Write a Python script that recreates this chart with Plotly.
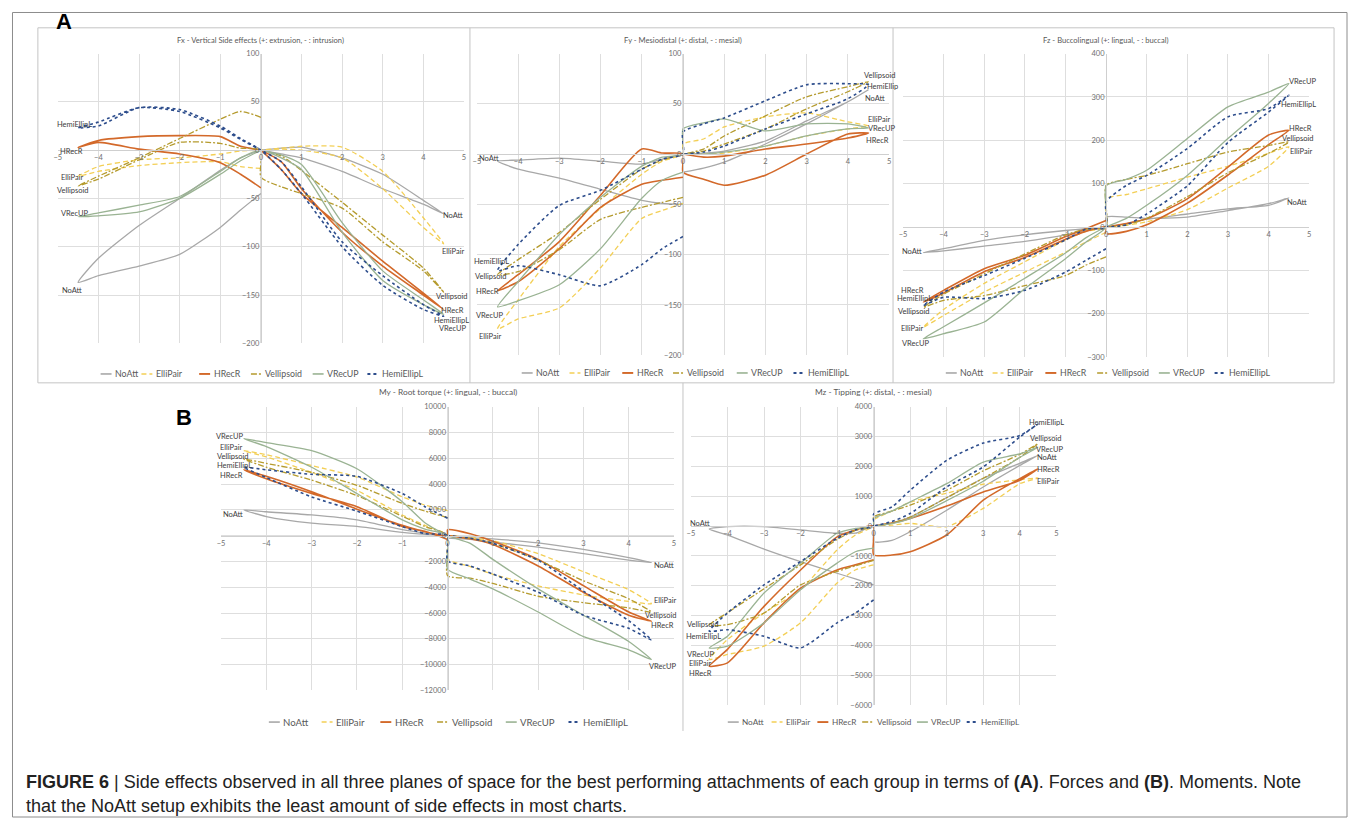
import plotly.graph_objects as go

# ---------------- figure geometry (screen pixels of the reference) ----------------
OFF = 8                      # default body margin of the html page
FW, FH = 1357 - 2 * OFF, 831 - 2 * OFF

SERIES = ["NoAtt", "ElliPair", "HRecR", "Vellipsoid", "VRecUP", "HemiEllipL"]

# loading path: 0 -> -4.5 -> 0, then 0 -> 4.5 -> 0
X_PATH = [0, -0.5, -1, -2, -3, -4, -4.5, -4, -3, -2, -1, -0.5, 0,
          0, 0.5, 1, 2, 3, 4, 4.5, 4, 3, 2, 1, 0.5, 0]
X_TICKS = [-5, -4, -3, -2, -1, 0, 1, 2, 3, 4, 5]

# ---------------- Fx ----------------
FX_NOATT = [-45, -62, -80, -108, -120, -130, -137, -112, -78, -50, -21, -8, 0,
            0, 2, 3, -8, -25, -52, -66, -56, -40, -22, -8, -4, 0]
FX_ELLIPAIR = [-19, -17, -12, -13, -16, -22, -27, -17, -10, -8, -4, -1, 0,
               0, 1, 0, -8, -40, -80, -97, -70, -22, 3, 4, 2, 0]
FX_HRECR = [-39, -25, -13, -4, 1, 8, 3, 10, 14, 15, 14, 4, 0,
            0, -12, -40, -85, -120, -150, -165, -148, -115, -80, -45, -20, 0]
FX_VELLIPSOID = [34, 40, 32, 12, -8, -27, -37, -30, -10, 8, 7, 2, 0,
                 -28, -38, -45, -60, -95, -125, -147, -122, -88, -54, -21, -6, 0]
FX_VRECUP = [0, -8, -22, -48, -57, -65, -69, -68, -64, -50, -25, -11, 0,
             0, -5, -15, -75, -125, -155, -170, -160, -135, -85, -20, -8, 0]
FX_HEMIELLIPL = [0, 12, 25, 42, 44, 25, 23, 29, 44, 40, 23, 11, 0,
                 0, -12, -38, -95, -130, -160, -172, -165, -140, -100, -45, -20, 0]

# ---------------- Fy ----------------
FY_NOATT = [-50, -49, -46, -35, -24, -15, -7, -6, -4, -7, -10, -5, 0,
            0, 1, 3, 13, 33, 52, 64, 52, 30, 10, -8, -14, -18]
FY_ELLIPAIR = [-49, -56, -64, -113, -153, -164, -174, -145, -92, -54, -20, -7, 0,
               10, 15, 27, 37, 41, 32, 28, 25, 18, 8, 1, 0, 0]
FY_HRECR = [-23, -26, -30, -53, -94, -127, -136, -120, -87, -41, 5, 1, 0,
            -18, -25, -31, -21, 0, 20, 21, 16, 10, 5, -2, -3, 0]
FY_VELLIPSOID = [-43, -48, -53, -65, -95, -117, -120, -105, -78, -45, -15, -6, 0,
                 0, 5, 18, 38, 57, 67, 72, 62, 45, 25, 10, 3, 0]
FY_VRECUP = [-18, -26, -44, -94, -130, -146, -152, -127, -80, -43, -12, -3, 0,
             25, 31, 35, 23, 30, 30, 26, 25, 18, 8, 2, 0, 0]
FY_HEMIELLIPL = [-82, -94, -110, -131, -120, -111, -116, -90, -51, -36, -15, -5, 0,
                 22, 30, 36, 53, 69, 70, 69, 55, 40, 25, 8, 2, 0]

# ---------------- Fz ----------------
FZ_NOATT = [0, -4, -8, -18, -31, -50, -59, -55, -44, -33, -18, -8, 0,
            23, 23, 20, 23, 38, 54, 67, 50, 42, 30, 18, 8, 0]
FZ_ELLIPAIR = [-12, -35, -58, -104, -150, -204, -231, -190, -130, -80, -30, -10, 0,
               65, 75, 88, 115, 140, 170, 185, 140, 90, 40, 12, 4, 0]
FZ_HRECR = [15, -4, -22, -65, -96, -146, -173, -152, -103, -70, -28, -10, 0,
            -15, -10, 5, 55, 120, 190, 223, 212, 138, 65, 19, 8, 0]
FZ_VELLIPSOID = [-69, -88, -112, -135, -158, -169, -185, -155, -108, -62, -18, -5, 0,
                 96, 110, 119, 146, 173, 188, 196, 170, 125, 70, 20, 5, 0]
FZ_VRECUP = [0, -25, -60, -118, -175, -230, -258, -246, -219, -142, -73, -35, 0,
             95, 110, 131, 204, 277, 311, 331, 285, 204, 119, 50, 20, 0]
FZ_HEMIELLIPL = [-50, -77, -104, -146, -165, -162, -181, -150, -112, -72, -30, -5, 0,
                 58, 96, 119, 181, 254, 273, 304, 265, 195, 95, 30, 5, 0]

# ---------------- My ----------------
MY_NOATT = [0, 200, 460, 1220, 1600, 1850, 1990, 1480, 970, 710, 250, 100, 0,
            0, -150, -255, -560, -1070, -1710, -2090, -1900, -1400, -900, -500, -300, -200]
MY_ELLIPAIR = [1940, 2370, 3010, 4540, 5430, 6270, 6580, 6100, 4900, 3500, 1600, 800, 0,
               -1800, -2400, -3000, -3900, -4600, -5100, -5280, -4200, -2800, -1400, -400, -150, 0]
MY_HRECR = [-300, 330, 710, 2240, 3260, 4400, 5100, 4600, 3400, 2050, 800, 300, 0,
            450, 150, -430, -1840, -3880, -5920, -6630, -6170, -4390, -2350, -690, -250, 0]
MY_VELLIPSOID = [1400, 1900, 2500, 3900, 4900, 5600, 5940, 5300, 4300, 3100, 1500, 700, 0,
                 -3100, -3300, -3700, -4700, -5200, -5600, -5920, -4900, -3500, -1900, -600, -200, 0]
MY_VRECUP = [0, 1000, 2630, 5180, 6580, 7200, 7520, 6900, 5300, 3260, 1220, 500, 0,
             -2600, -3370, -4130, -5920, -7830, -8850, -9610, -8210, -6170, -4130, -1840, -600, 0]
MY_HEMIELLIPL = [1350, 2240, 3260, 4590, 4750, 5100, 5300, 4500, 3000, 1900, 700, 150, 0,
                 -1960, -2350, -2980, -4390, -6170, -7190, -8080, -6600, -4300, -1900, -600, -200, 0]

# ---------------- Mz ----------------
MZ_NOATT = [-1970, -1770, -1580, -1190, -770, -300, -100, -20, -20, -130, -240, -240, 0,
            -520, -480, -190, 530, 1310, 2030, 2370, 2100, 1600, 950, 300, 100, 0]
MZ_ELLIPAIR = [-1300, -1470, -1910, -3240, -4020, -4300, -4470, -3800, -2910, -2130, -800, -300, 0,
               200, 500, 800, 1100, 1400, 1550, 1610, 1420, 590, -20, 90, 30, 0]
MZ_HRECR = [-1130, -1300, -1470, -2080, -3240, -4580, -4690, -4130, -2690, -1470, -360, -130, 0,
            -960, -970, -860, -300, 870, 1590, 1920, 1530, 1140, 670, 255, 100, 0]
MZ_VELLIPSOID = [-1150, -1330, -1520, -1970, -2910, -3300, -3320, -2900, -2100, -1300, -450, -150, 0,
                 300, 500, 700, 1200, 1850, 2400, 2760, 2300, 1600, 950, 300, 100, 0]
MZ_VRECUP = [-740, -860, -1240, -2130, -3240, -4020, -4080, -3690, -2240, -1240, -240, -80, 0,
             250, 500, 810, 1420, 2140, 2420, 2640, 2300, 1500, 850, 250, 80, 0]
MZ_HEMIELLIPL = [-2470, -2910, -3240, -4080, -3690, -3470, -3520, -2910, -1970, -1190, -410, -130, 0,
                 400, 640, 1200, 2200, 2780, 3030, 3420, 2980, 1980, 1310, 420, 150, 0]

# ---------------- end-of-curve labels (text, x, y) ----------------
FX_LABELS = [("HemiEllipL", -4.6, 27), ("HRecR", -4.67, -1), ("ElliPair", -4.65, -28),
             ("Vellipsoid", -4.62, -42), ("VRecUP", -4.58, -66), ("NoAtt", -4.65, -145),
             ("NoAtt", 4.73, -68), ("ElliPair", 4.73, -105), ("Vellipsoid", 4.7, -152),
             ("HRecR", 4.72, -166), ("HemiEllipL", 4.7, -176), ("VRecUP", 4.72, -185)]
FY_LABELS = [("NoAtt", -4.69, -4), ("HemiEllipL", -4.65, -107), ("Vellipsoid", -4.65, -122),
             ("HRecR", -4.75, -137), ("VRecUP", -4.7, -161), ("ElliPair", -4.69, -181),
             ("Vellipsoid", 4.79, 78), ("HemiEllip", 4.83, 67), ("NoAtt", 4.67, 55),
             ("ElliPair", 4.75, 34), ("VRecUP", 4.81, 25), ("HRecR", 4.71, 14)]
FZ_LABELS = [("NoAtt", -4.76, -56), ("HRecR", -4.76, -146), ("HemiEllipL", -4.72, -164),
             ("Vellipsoid", -4.72, -195), ("ElliPair", -4.78, -233), ("VRecUP", -4.69, -269),
             ("VRecUP", 4.83, 336), ("HemiEllipL", 4.73, 283), ("HRecR", 4.79, 227),
             ("Vellipsoid", 4.73, 205), ("ElliPair", 4.79, 175), ("NoAtt", 4.71, 56)]
MY_LABELS = [("VRecUP", -4.82, 7650), ("ElliPair", -4.78, 6850), ("Vellipsoid", -4.73, 6120),
             ("HemiEllipL", -4.71, 5400), ("HRecR", -4.78, 4650), ("NoAtt", -4.72, 1660),
             ("NoAtt", 4.78, -2300), ("ElliPair", 4.81, -5020), ("Vellipsoid", 4.72, -6170),
             ("HRecR", 4.75, -6990), ("VRecUP", 4.75, -10120)]
MZ_LABELS = [("NoAtt", -4.73, 90), ("Vellipsoid", -4.66, -3300), ("HemiEllipL", -4.66, -3710),
             ("VRecUP", -4.75, -4300), ("ElliPair", -4.75, -4600), ("HRecR", -4.73, -4920),
             ("HemiEllipL", 4.73, 3480), ("Vellipsoid", 4.73, 2920), ("VRecUP", 4.82, 2560),
             ("NoAtt", 4.77, 2290), ("HRecR", 4.79, 1900), ("ElliPair", 4.77, 1480)]

TITLES = ["Fx - Vertical Side effects (+: extrusion, - : intrusion)",
          "Fy - Mesiodistal (+: distal, - : mesial)",
          "Fz - Buccolingual (+: lingual, - : buccal)",
          "My - Root torque (+: lingual, - : buccal)",
          "Mz - Tipping (+: distal, - : mesial)"]

CAPTION_1 = ("<b>FIGURE 6</b> | Side effects observed in all three planes of space for the best "
             "performing attachments of each group in terms of <b>(A)</b>. Forces and <b>(B)</b>. Moments. Note")
CAPTION_2 = "that the NoAtt setup exhibits the least amount of side effects in most charts."

STYLE = {
    "NoAtt": dict(color="#a8a8a8", dash="solid", width=1.3),
    "ElliPair": dict(color="#f3cf55", dash="5px,3px", width=1.3),
    "HRecR": dict(color="#d3692a", dash="solid", width=1.6),
    "Vellipsoid": dict(color="#b59b2e", dash="6px,2px,2px,2px", width=1.3),
    "VRecUP": dict(color="#9ab393", dash="solid", width=1.3),
    "HemiEllipL": dict(color="#2d4d8c", dash="dot", width=1.6),
}


def px_x(p):
    return (p - OFF) / FW


def px_y(p):
    return 1 - (p - OFF) / FH


# panel boxes in screen px: (left, right, top, bottom); legend = (start x, y, item offsets, font size)
PANELS = [
    dict(title=TITLES[0], data=[FX_NOATT, FX_ELLIPAIR, FX_HRECR, FX_VELLIPSOID, FX_VRECUP, FX_HEMIELLIPL],
         yr=(-200, 100), dtick=50, box=(54, 462, 50, 343), title_y=36, labels=FX_LABELS, tfs=7.6,
         leg=(97, 374, [0, 41, 99, 151, 213, 268], 8.8)),
    dict(title=TITLES[1], data=[FY_NOATT, FY_ELLIPAIR, FY_HRECR, FY_VELLIPSOID, FY_VRECUP, FY_HEMIELLIPL],
         yr=(-200, 100), dtick=50, box=(475, 889, 50, 355), title_y=36, labels=FY_LABELS, tfs=7.6,
         leg=(520, 373, [0, 48, 101, 152, 216, 273], 8.8)),
    dict(title=TITLES[2], data=[FZ_NOATT, FZ_ELLIPAIR, FZ_HRECR, FZ_VELLIPSOID, FZ_VRECUP, FZ_HEMIELLIPL],
         yr=(-300, 400), dtick=100, box=(903, 1311, 50, 357), title_y=36, labels=FZ_LABELS, tfs=7.6,
         leg=(946, 373, [0, 47, 100, 152, 214, 270], 8.8)),
    dict(title=TITLES[3], data=[MY_NOATT, MY_ELLIPAIR, MY_HRECR, MY_VELLIPSOID, MY_VRECUP, MY_HEMIELLIPL],
         yr=(-12000, 10000), dtick=2000, box=(218, 673, 407, 694), title_y=392, labels=MY_LABELS, tfs=8.3,
         leg=(266, 726, [0, 53, 112, 169, 238, 301], 9.6)),
    dict(title=TITLES[4], data=[MZ_NOATT, MZ_ELLIPAIR, MZ_HRECR, MZ_VELLIPSOID, MZ_VRECUP, MZ_HEMIELLIPL],
         yr=(-6000, 4000), dtick=1000, box=(690, 1057, 407, 709), title_y=392, labels=MZ_LABELS, tfs=8.3,
         leg=(727, 726, [0, 44, 90, 135, 190, 240], 8.2)),
]

FONT = "Lato, 'Open Sans', sans-serif"
TICK_FONT = dict(family=FONT, size=7.5, color="#707070")
SAMPLE_LEN = 11

fig = go.Figure()
layout = dict(width=FW, height=FH, margin=dict(l=0, r=0, t=0, b=0),
              paper_bgcolor="white", plot_bgcolor="white", showlegend=False,
              annotations=[], shapes=[])

for i, p in enumerate(PANELS, start=1):
    sfx = "" if i == 1 else str(i)
    xref, yref = "x" + sfx, "y" + sfx
    left, right, top, bottom = p["box"]
    x0p, x1p = px_x(left), px_x(right)
    ytop, ybot = px_y(top), px_y(bottom)
    ymin, ymax = p["yr"]
    zero_y = ytop - (ymax / (ymax - ymin)) * (ytop - ybot)
    zero_x = x0p + 0.5 * (x1p - x0p)

    layout["xaxis" + sfx] = dict(domain=[x0p, x1p], range=[-5, 5], tickvals=X_TICKS,
                                 anchor="free", position=zero_y, showgrid=True, gridcolor="#dedede",
                                 gridwidth=1, zeroline=False, showline=True, linecolor="#cfcfcf",
                                 ticks="", tickfont=TICK_FONT, fixedrange=True)
    layout["yaxis" + sfx] = dict(domain=[ybot, ytop], range=[ymin, ymax], dtick=p["dtick"], tick0=0,
                                 tickformat="d", anchor="free", position=zero_x, showgrid=True,
                                 gridcolor="#dedede", gridwidth=1, zeroline=False, showline=True,
                                 linecolor="#cfcfcf", ticks="", tickfont=TICK_FONT, fixedrange=True)

    for name, yvals in zip(SERIES, p["data"]):
        st = STYLE[name]
        fig.add_trace(go.Scatter(
            x=X_PATH, y=yvals, mode="lines", name=name,
            xaxis=xref, yaxis=yref, hoverinfo="skip",
            line=dict(color=st["color"], dash=st["dash"], width=st["width"],
                      shape="spline", smoothing=0.6)))

    # per-panel legend row (short line sample + name)
    lx0, ly, offs, lfs = p["leg"]
    for name, o in zip(SERIES, offs):
        st = STYLE[name]
        sx = lx0 + o
        layout["shapes"].append(dict(type="line", xref="paper", yref="paper",
                                     x0=px_x(sx), x1=px_x(sx + SAMPLE_LEN), y0=px_y(ly), y1=px_y(ly),
                                     line=dict(color=st["color"], dash=st["dash"], width=st["width"] + 0.3)))
        layout["annotations"].append(dict(x=px_x(sx + SAMPLE_LEN + 1.5), y=px_y(ly), xref="paper", yref="paper",
                                          text=name, showarrow=False, xanchor="left", yanchor="middle",
                                          font=dict(family=FONT, size=lfs, color="#595959")))

    layout["annotations"].append(dict(
        x=(x0p + x1p) / 2, y=px_y(p["title_y"]), xref="paper", yref="paper",
        text=p["title"], showarrow=False, xanchor="center", yanchor="middle",
        font=dict(family=FONT, size=p["tfs"], color="#595959")))

    for text, lx, lyv in p["labels"]:
        layout["annotations"].append(dict(
            x=lx, y=lyv, xref=xref, yref=yref, text=text, showarrow=False,
            xanchor="center", yanchor="middle",
            font=dict(family=FONT, size=7.5, color="#3c3c3c")))

# panel letters
layout["annotations"].append(dict(x=px_x(50), y=px_y(18), xref="paper", yref="paper", text="<b>A</b>",
                                  showarrow=False, xanchor="left", yanchor="middle",
                                  font=dict(family="Liberation Sans, Arial, sans-serif", size=22, color="black")))
layout["annotations"].append(dict(x=px_x(171), y=px_y(418), xref="paper", yref="paper", text="<b>B</b>",
                                  showarrow=False, xanchor="left", yanchor="middle",
                                  font=dict(family="Liberation Sans, Arial, sans-serif", size=22, color="black")))

# caption
for txt, yy in [(CAPTION_1, 787), (CAPTION_2, 811)]:
    layout["annotations"].append(dict(x=px_x(20), y=px_y(yy), xref="paper", yref="paper", text=txt,
                                      showarrow=False, xanchor="left", yanchor="middle",
                                      font=dict(family="Liberation Sans, Arial, sans-serif",
                                                size=18, color="#222222")))


def line(x0, y0, x1, y1, col="#c4c4c4"):
    return dict(type="line", xref="paper", yref="paper", x0=px_x(x0), y0=px_y(y0),
                x1=px_x(x1), y1=px_y(y1), line=dict(color=col, width=1))


layout["shapes"] += [
    dict(type="rect", xref="paper", yref="paper", x0=px_x(8.5), y0=px_y(822), x1=px_x(1349),
         y1=px_y(8.5), line=dict(color="#8c8c8c", width=1)),
    line(34, 24, 1336, 24), line(34, 24, 34, 383), line(1336, 24, 1336, 383),
    line(468, 24, 468, 383), line(893, 24, 893, 383),
    line(34, 383, 1336, 383), line(682, 383, 682, 735),
]

fig.update_layout(**layout)
fig.write_html("out.html")
